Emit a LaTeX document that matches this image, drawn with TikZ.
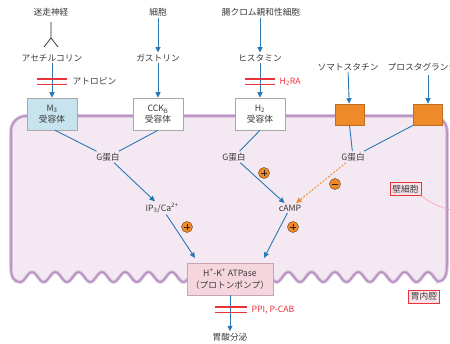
\documentclass[tikz,border=0pt]{standalone}
\usepackage{fontspec}
\setmainfont{Noto Sans CJK JP}
\usetikzlibrary{arrows.meta,calc}
\definecolor{tgrey}{HTML}{3A3A3A}
\definecolor{ablue}{HTML}{2A78B5}
\definecolor{aorange}{HTML}{EE8A2A}
\definecolor{sdark}{HTML}{7A4A1A}
\definecolor{bred}{HTML}{E8333A}
\definecolor{cellbg}{HTML}{F4E9F2}
\definecolor{membL}{HTML}{DCC5E0}
\definecolor{membD}{HTML}{B58FC0}
\definecolor{boxgrey}{HTML}{A8A8A8}
\definecolor{mthree}{HTML}{C6E3EE}
\definecolor{atpfill}{HTML}{F6D6DE}
\definecolor{atpdraw}{HTML}{C9A3B0}
\definecolor{labfill}{HTML}{F9E3E8}
\newcommand{\cellpath}{(20,282) .. controls (14,282) and (11,277) .. (11,268) -- (11,131) .. controls (11,122.7) and (17.7,116) .. (26,116) -- (432,116) .. controls (440.3,116) and (447,122.7) .. (447,131) -- (447,264) .. controls (447,276) and (444,281.5) .. (438,281.5) -- plot[domain=438:20, samples=260, variable=\x] (\x, {277-5*cos(15.4506*(\x-32))}) -- cycle}
\begin{document}
\begin{tikzpicture}[x=1pt,y=-1pt,
  font=\fontsize{8.7}{10.5}\selectfont,
  txt/.style={text=tgrey, inner sep=1.5pt},
  rbox/.style={draw=boxgrey, line width=0.6pt, minimum width=50pt, minimum height=32pt, align=center, inner sep=1pt, text=tgrey},
  obox/.style={draw=aorange!80!black, fill=aorange, line width=0.5pt, minimum width=29pt, minimum height=21pt, inner sep=0pt},
  arr/.style={draw=ablue, line width=0.9pt, -{Triangle[length=5.5pt,width=5pt]}},
  ln/.style={draw=ablue, line width=0.9pt},
  dasharr/.style={draw=aorange, line width=0.9pt, dash pattern=on 2pt off 1.5pt, -{Triangle[length=5.5pt,width=5pt]}},
  bar/.style={draw=bred, line width=1.3pt},
  sign/.style={circle, fill=aorange, draw=sdark, line width=0.5pt, inner sep=0pt, minimum size=11pt},
  signmark/.style={draw=black!85, line width=0.8pt},
  lab/.style={draw=bred, line width=0.8pt, fill=labfill, text=tgrey, inner sep=2.5pt}
]
\useasboundingbox (0,0) rectangle (450,344);
% cell
\path[fill=cellbg, draw=membL, line width=3.6pt] \cellpath;
\draw[membD, line width=1.5pt] \cellpath;

% column 1
\node[txt] (vagus) at (51,12) {迷走神経};
\coordinate (ys) at (51,22);
\coordinate (yc) at (51,38);
\coordinate (yl) at (44,47);
\coordinate (yr) at (58,47);
\draw[black!85, line width=0.7pt] (ys) -- (yc) -- (yl) (yc) -- (yr);
\node[txt] (ach) at (52,58) {アセチルコリン};
\node[rbox, fill=mthree] (m3) at (52,114) {M\textsubscript{3}\\受容体};
\draw[arr] (ach) -- (m3);
\draw[bar] (37,79) -- (67,79) (37,84.5) -- (67,84.5);
\node[txt, anchor=west] (atro) at (71,81.5) {アトロピン};

% column 2
\node[txt] (cell) at (158,12) {細胞};
\node[txt] (gas) at (158,58) {ガストリン};
\node[rbox, fill=white] (cck) at (158,114) {CCK\textsubscript{B}\\受容体};
\draw[arr] (cell) -- (gas);
\draw[arr] (gas) -- (cck);

% column 3
\node[txt] (ecl) at (261,12) {腸クロム親和性細胞};
\node[txt] (his) at (260,58) {ヒスタミン};
\node[rbox, fill=white] (h2) at (260,114) {H\textsubscript{2}\\受容体};
\draw[arr] (ecl.south -| his) -- (his);
\draw[arr] (his) -- (h2);
\draw[bar] (245,79) -- (275,79) (245,84.5) -- (275,84.5);
\node[txt, anchor=west, text=bred] (h2ra) at (278,81.5) {H\textsubscript{2}RA};

% column 4, 5
\node[txt] (som) at (348,67) {ソマトスタチン};
\node[obox] (ob1) at (349.5,114.5) {};
\draw[arr] (som) -- (ob1);
\node[txt, anchor=west] (pg) at (386,67) {プロスタグランジン};
\node[obox] (ob2) at (428,114.5) {};
\coordinate (pgb) at (428,75);
\draw[arr] (pgb) -- (ob2);

% G proteins
\node[txt] (g1) at (108,157) {G蛋白};
\node[txt] (g2) at (234,157) {G蛋白};
\node[txt] (g3) at (353,157) {G蛋白};
\draw[ln] ($(m3.south)+(3,0)$) -- (g1);
\draw[ln] (cck.south) -- (g1);
\draw[ln] (h2.south) -- (g2);
\draw[ln] (ob1.south) -- (g3);
\draw[ln] (ob2.south west) -- (g3);

\node[txt] (ip3) at (162,208) {IP\textsubscript{3}/Ca\textsuperscript{2+}};
\node[txt] (camp) at (290,208) {cAMP};
\draw[arr] (g1) -- (ip3);
\draw[arr] (g2) -- (camp);
\draw[dasharr] (g3) -- (camp);

\node[sign] (p1) at (187,227) {};
\node[sign] (p2) at (264,173) {};
\node[sign] (p3) at (293,227) {};
\node[sign] (m1) at (335,184) {};
\foreach \s in {p1,p2,p3} {
  \draw[signmark] ($(\s)+(-3,0)$) -- ($(\s)+(3,0)$) ($(\s)+(0,-3)$) -- ($(\s)+(0,3)$);
}
\draw[signmark] ($(m1)+(-3,0)$) -- ($(m1)+(3,0)$);

% ATPase
\node[draw=atpdraw, fill=atpfill, line width=0.7pt, minimum width=86pt, minimum height=32pt, align=center, inner sep=1pt, text=tgrey, font=\fontsize{8.7}{12}\selectfont] (atp) at (230,279) {H\textsuperscript{+}-K\textsuperscript{+} ATPase\\（プロトンポンプ）};
\coordinate (atpl) at (195,258);
\coordinate (atpr) at (264,258);
\draw[arr] (ip3) -- (atpl);
\draw[arr] (camp) -- (atpr);

\node[txt] (acid) at (230,337) {胃酸分泌};
\draw[arr] (atp) -- (acid);
\draw[bar] (215,307) -- (247,307) (215,312.5) -- (247,312.5);
\node[txt, anchor=west, text=bred] (ppi) at (250,310) {PPI, P-CAB};

% labels
\node[lab] (parietal) at (405.5,189) {壁細胞};
\coordinate (lead) at (451,210);
\draw[bred!45, line width=0.6pt] (parietal.south east) .. controls (432,204) and (440,207) .. (lead);
\node[lab] (lumen) at (424,296.5) {胃内腔};
\end{tikzpicture}
\end{document}
